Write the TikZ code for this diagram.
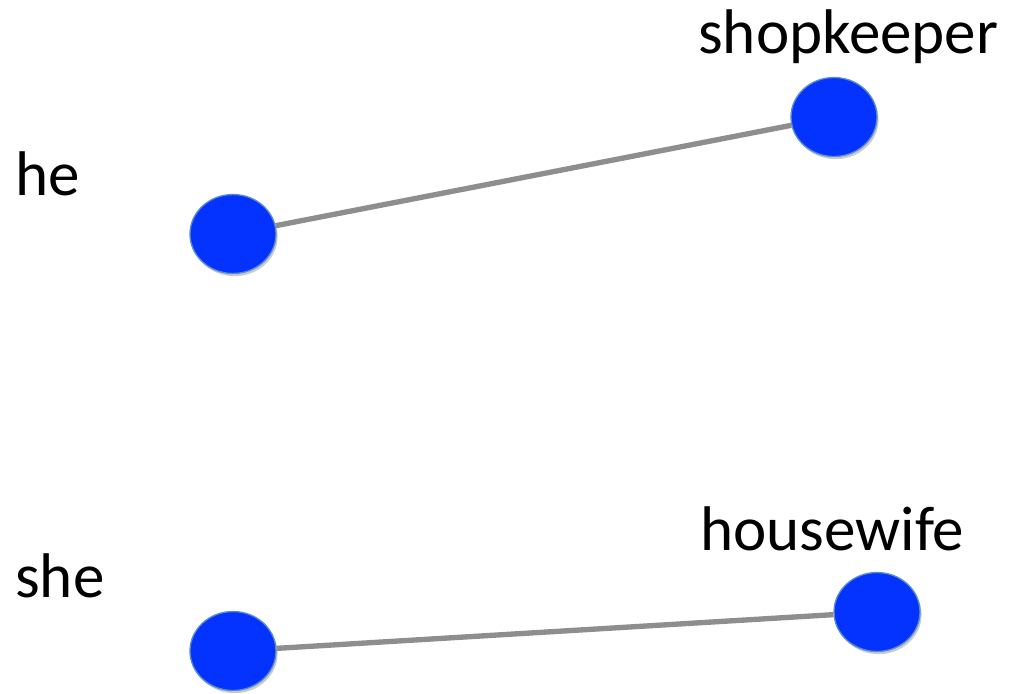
\documentclass[tikz,border=0pt]{standalone}
\usepackage{fontspec}
\setmainfont{Carlito}
\usetikzlibrary{shapes.geometric,shadows}
\definecolor{titik}{RGB}{4,51,255}
\definecolor{tepi}{RGB}{90,140,200}
\definecolor{garis}{RGB}{142,142,142}
\begin{document}
\begin{tikzpicture}[x=0.75pt,y=-0.75pt,
      titikstyle/.style={ellipse,draw=tepi,line width=1pt,fill=titik,inner sep=0pt,
        minimum width=64.5pt,minimum height=59.25pt,
        drop shadow={shadow xshift=1.2pt,shadow yshift=-2pt,opacity=0.35,fill=black!60}},
      kata/.style={anchor=base west,inner sep=0pt,font=\fontsize{47.3}{57}\selectfont},
      sambung/.style={draw=garis,line width=4pt}]
    \useasboundingbox (0,0) rectangle (1010,693);
    % Kata-kata
    \node[kata] (he-label) at (15,195) {he};
    \node[kata] (she-label) at (15,597) {she};
    \node[kata] (shopkeeper-label) at (698,53) {shopkeeper};
    \node[kata] (housewife-label) at (700,550) {housewife};
    % Titik-titik
    \node[titikstyle] (he) at (233,234) {};
    \node[titikstyle] (shopkeeper) at (834,117) {};
    \node[titikstyle] (she) at (233,651) {};
    \node[titikstyle] (housewife) at (877,612) {};
    % Garis penghubung
    \draw[sambung] (he) -- (shopkeeper);
    \draw[sambung] (she) -- (housewife);
  \end{tikzpicture}
\end{document}
